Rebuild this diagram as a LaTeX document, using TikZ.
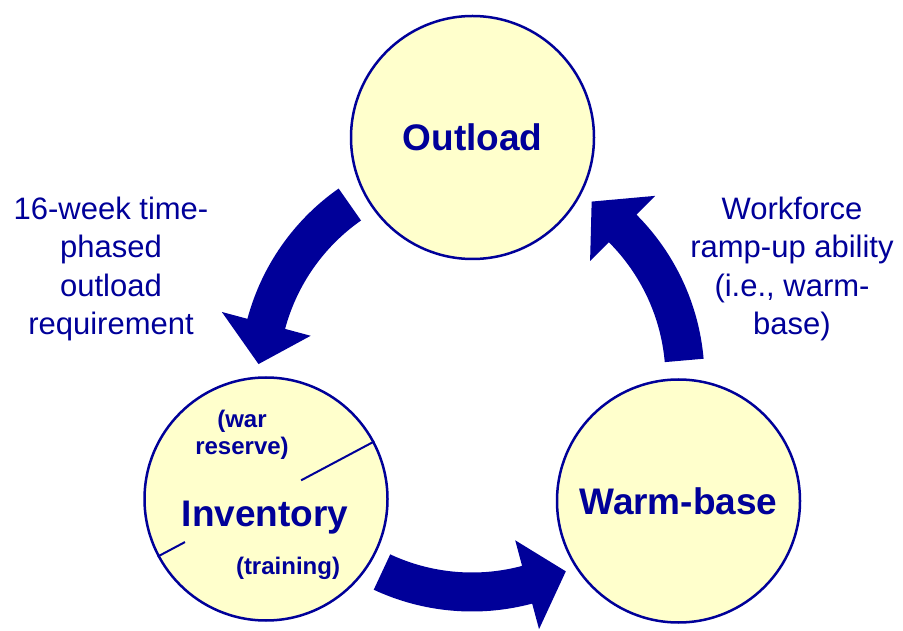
\documentclass[tikz,border=0pt]{standalone}
\usepackage{fontspec}
\setmainfont{Liberation Sans}
\definecolor{navy}{HTML}{000099}
\definecolor{cream}{HTML}{FFFFCC}
\begin{document}
\begin{tikzpicture}
    [
    x=1pt, y=1pt,
    stage/.style={circle,draw=navy,fill=cream,line width=2.5pt,inner sep=0pt,minimum size=243pt,text=navy,font=\fontsize{37}{44}\selectfont\bfseries},
    title/.style={text=navy,inner sep=0pt,font=\fontsize{37}{44}\selectfont\bfseries},
    note/.style={text=navy,inner sep=0pt,align=center,font=\fontsize{24}{27}\selectfont\bfseries},
    remark/.style={text=navy,inner sep=0pt,align=center,font=\fontsize{31}{38.3}\selectfont},
    divider/.style={navy,line width=2pt},
    flow/.style={fill=navy}
    ]
    \clip (0,0) rectangle (903,630);
    \coordinate (hub) at (472,251);
    \node (outload) at (472.5,492.5) [stage] {Outload};
    \node (inventory) at (266,131) [stage] {};
    \node (warmbase) at (678.5,129) [stage] {Warm-base};
    \node (invlabel) at (265,103.3) [title,anchor=base] {Inventory};
    \node (reserve) at (242,195) [note] {(war\\reserve)};
    \node (training) at (288,61.5) [note] {(training)};
    \draw [divider] (inventory.28) -- ++(208:83);
    \draw [divider] (inventory.208) -- ++(28:31);
    \node (demand) at (111,361) [remark] {16-week time-\\phased\\outload\\requirement};
    \node (rampup) at (792,361) [remark] {Workforce\\ramp-up ability\\(i.e., warm-\\base)};
    % block arrows round the hub
    \fill [flow,shift={(hub)}] (125:232.5) arc [start angle=125,end angle=165,radius=232.5] -- (165:259) -- (176:214) -- (165:167) -- (165:193.5) arc [start angle=165,end angle=125,radius=193.5] -- cycle;
    \fill [flow,shift={(hub)}] (245:232.5) arc [start angle=245,end angle=285,radius=232.5] -- (285:259) -- (296:214) -- (285:167) -- (285:193.5) arc [start angle=285,end angle=245,radius=193.5] -- cycle;
    \fill [flow,shift={(hub)}] (5:232.5) arc [start angle=5,end angle=45,radius=232.5] -- (45:259) -- (56:214) -- (45:167) -- (45:193.5) arc [start angle=45,end angle=5,radius=193.5] -- cycle;
  \end{tikzpicture}
\end{document}
